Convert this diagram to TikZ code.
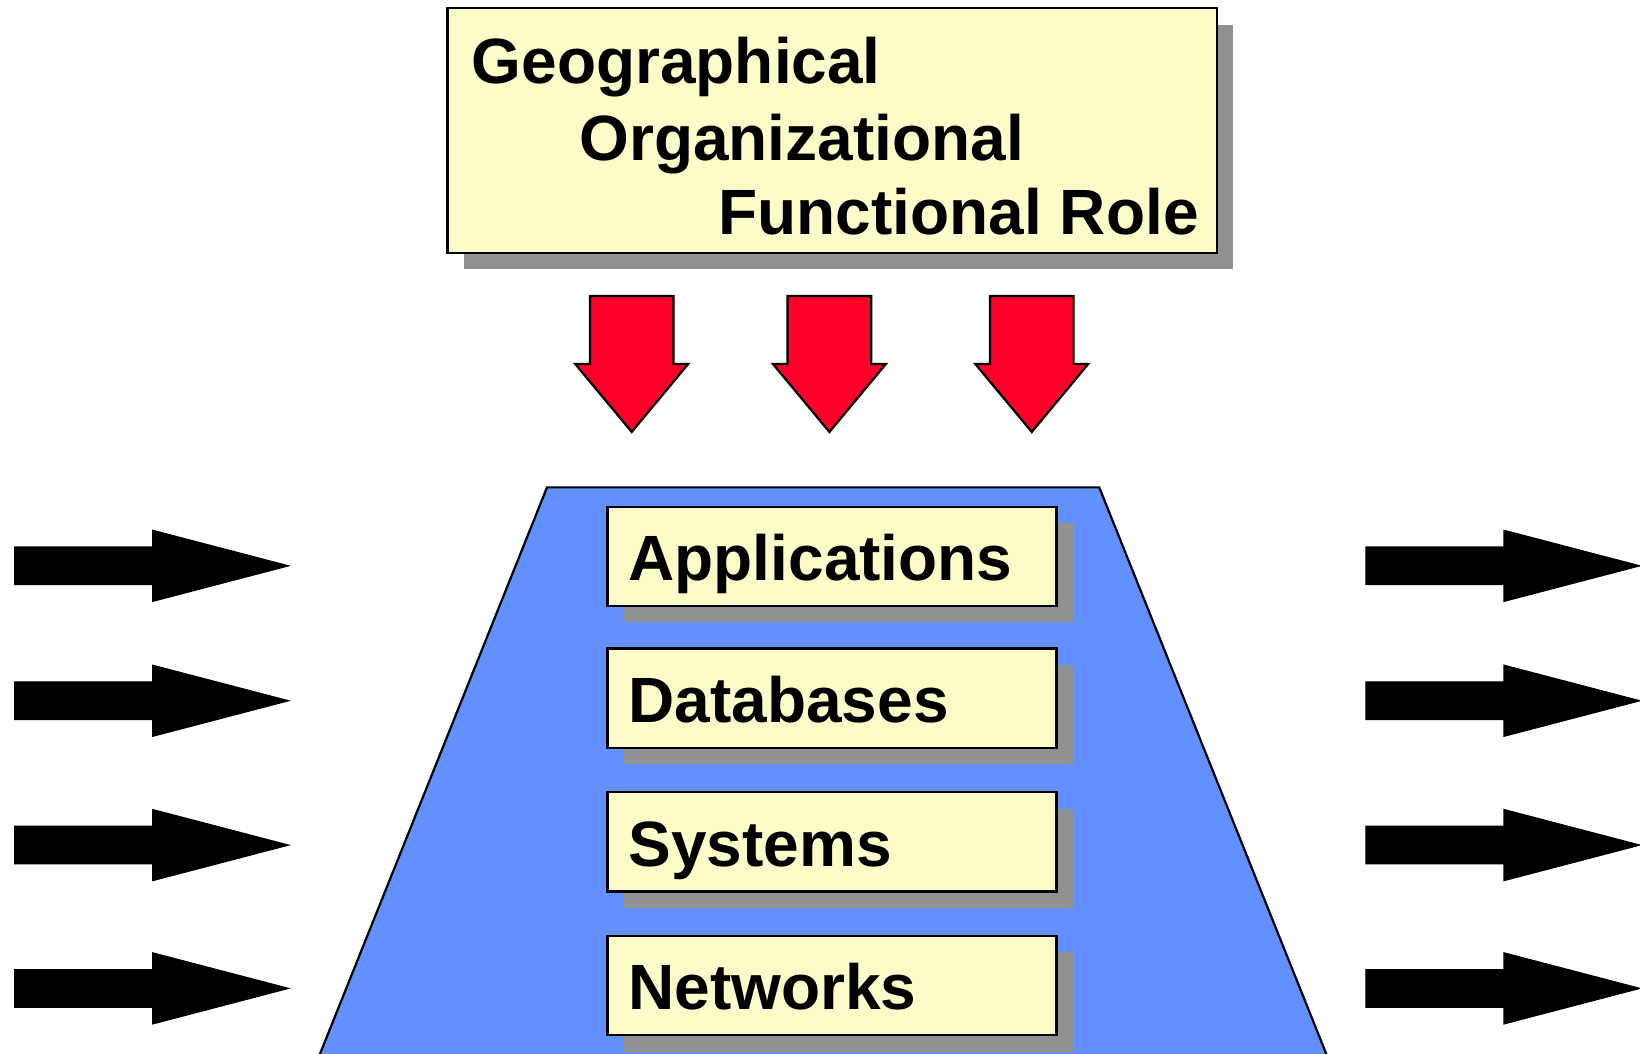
\documentclass[tikz,border=0pt]{standalone}
\usepackage{fontspec}
\setmainfont{Liberation Sans}
\usetikzlibrary{shadows}
\definecolor{paleyellow}{RGB}{252,252,200}
\definecolor{layerblue}{RGB}{98,145,255}
\definecolor{arrowred}{RGB}{255,0,40}
\definecolor{shadowgray}{RGB}{145,145,145}
\begin{document}
\begin{tikzpicture}[x=0.01cm,y=-0.01cm]
\fontsize{17.4}{20}\selectfont\bfseries
\useasboundingbox (0,0) rectangle (1568,1007);
\begin{scope}[line width=0.6pt,
              block1/.style={rectangle,draw,fill=paleyellow,
                drop shadow={shadow xshift=0.155cm,shadow yshift=-0.155cm,fill=shadowgray,opacity=1}},
              block2/.style={block1,minimum width=4.29cm,minimum height=0.93cm,
                text width=3.89cm,align=left,inner xsep=0.2cm,
                text height=0.5cm,text depth=0.04cm},
              label/.style={anchor=base west,inner sep=0pt}]
    \fill [layerblue] (305,1010) -- (523,466) -- (1051,466) -- (1269,1010) -- cycle;
    \draw (305,1010) -- (523,466) -- (1051,466) -- (1269,1010);
    \node [block1,minimum width=7.35cm,minimum height=2.34cm] (roles) at (795.5,125) {};
    \node [label] (geo) at (450,80) {Geographical};
    \node [label] (org) at (553,153) {Organizational};
    \node [label] (func) at (686,224) {Functional Role};
    \node [block2] (app) at (795.5,532) {Applications};
    \node [block2] (db) at (795.5,667.5) {Databases};
    \node [block2] (sys) at (795.5,805) {Systems};
    \node [block2] (net) at (795.5,942.5) {Networks};
    \foreach \x in {604,793,986.5}
      \draw [fill=arrowred] (\x-40,283) -- (\x+40,283) -- (\x+40,348) -- (\x+54,348)
        -- (\x,413) -- (\x-54,348) -- (\x-40,348) -- cycle;
    \foreach \y in {541,670,808,945}
      \foreach \x in {14,1306}
        \draw [fill=black,line width=0.3pt] (\x,\y-18) -- (\x+132,\y-18) -- (\x+132,\y-34)
          -- (\x+262,\y) -- (\x+132,\y+34) -- (\x+132,\y+18) -- (\x,\y+18) -- cycle;
\end{scope}
\end{tikzpicture}
\end{document}
